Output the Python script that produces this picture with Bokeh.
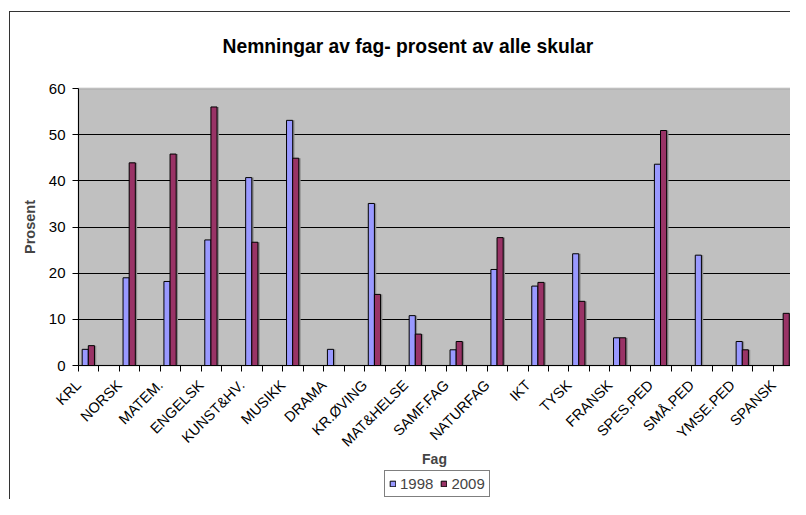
import math
from bokeh.plotting import figure
from bokeh.models import (ColumnDataSource, FixedTicker, Legend, LegendItem,
                          BoxAnnotation, Range1d, LinearAxis, Label, Grid)
from bokeh.transform import dodge
from bokeh.embed import file_html
from bokeh.resources import INLINE

fag = ["KRL", "NORSK", "MATEM.", "ENGELSK", "KUNST&HV.", "MUSIKK", "DRAMA",
       "KR.ØVING", "MAT&HELSE", "SAMF.FAG", "NATURFAG", "IKT", "TYSK",
       "FRANSK", "SPES.PED", "SMÅ.PED", "YMSE.PED", "SPANSK"]
y1998 = [3.5, 19.0, 18.2, 27.2, 40.7, 53.1, 3.5, 35.1, 10.8, 3.4, 20.8, 17.2,
         24.2, 6.0, 43.6, 23.9, 5.2, 0]
y2009 = [4.3, 43.9, 45.8, 56.0, 26.7, 44.9, 0, 15.4, 6.8, 5.2, 27.7, 18.0,
         13.9, 6.0, 50.9, 0, 3.4, 11.3]
y_ticks = [0, 10, 20, 30, 40, 50, 60]
series_names = ["1998", "2009"]
title_text = "Nemningar av fag- prosent av alle skular"

FONT = "Liberation Sans"
W, H = 790, 499

# layout (pixels of the canvas)
AX_LEFT, AX_TOP, AX_ZERO = 78.0, 88.0, 365.0
X_END = 17.42
px_per_cat = (W - AX_LEFT) / X_END
px_per_unit = (AX_ZERO - AX_TOP) / 60.0
x_range = Range1d(-AX_LEFT / px_per_cat, X_END)
y_range = Range1d(-(H - AX_ZERO) / px_per_unit, 60 + AX_TOP / px_per_unit)

pos = list(range(len(fag)))
source = ColumnDataSource(dict(pos=pos, fag=fag, y1998=y1998, y2009=y2009))

p = figure(width=W, height=H, output_backend="svg", toolbar_location=None,
           x_range=x_range, y_range=y_range, x_axis_location=None,
           y_axis_location=None, min_border=0, title=None)
p.background_fill_color = "white"
p.border_fill_color = "white"
p.outline_line_color = None
p.xgrid.visible = False
p.ygrid.visible = False

# plot area (grey) with grey top border
p.add_layout(BoxAnnotation(left=0, right=X_END + 1, bottom=0, top=60,
                           fill_color="#C0C0C0", fill_alpha=1,
                           line_color="#767676", line_width=2,
                           level="image"))

# chart border (only left and top edges are visible in the view)
p.add_layout(BoxAnnotation(left=8.5, right=9.5, top=H - 10.5, bottom=-50,
                           left_units="screen", right_units="screen",
                           top_units="screen", bottom_units="screen",
                           fill_color="#333333", fill_alpha=1,
                           line_color=None, level="overlay"))
p.add_layout(BoxAnnotation(left=8.5, right=W + 50, top=H - 10.5,
                           bottom=H - 11.5,
                           left_units="screen", right_units="screen",
                           top_units="screen", bottom_units="screen",
                           fill_color="#333333", fill_alpha=1,
                           line_color=None, level="overlay"))

# horizontal gridlines
grid = Grid(dimension=1, ticker=FixedTicker(ticks=y_ticks[1:-1]),
            grid_line_color="black", grid_line_width=1,
            cross_bounds=(0, X_END + 1))
p.add_layout(grid)

bw = 0.15
# shadows
p.vbar(x=dodge("pos", 0.165 + 0.045, range=p.x_range), top="y1998", width=bw,
       bottom=0, source=source, fill_color="#8c8c8c", line_color=None)
p.vbar(x=dodge("pos", 0.315 + 0.045, range=p.x_range), top="y2009", width=bw,
       bottom=0, source=source, fill_color="#8c8c8c", line_color=None)

r1 = p.vbar(x=dodge("pos", 0.165, range=p.x_range), top="y1998", width=bw,
            bottom=0, source=source, fill_color="#9999FF", line_color="black",
            line_width=1)
r2 = p.vbar(x=dodge("pos", 0.315, range=p.x_range), top="y2009", width=bw,
            bottom=0, source=source, fill_color="#993366", line_color="black",
            line_width=1)

# x axis at y = 0
xa = LinearAxis(fixed_location=0, bounds=(0, X_END + 1))
xa.ticker = FixedTicker(ticks=pos,
                        minor_ticks=[i * 0.5 for i in range(2 * len(fag))])
xa.major_label_overrides = {k: name for k, name in zip(pos, fag)}
xa.major_label_orientation = math.pi / 4
xa.major_tick_in = 0
xa.major_tick_out = 0
xa.minor_tick_in = 0
xa.minor_tick_out = 6
xa.minor_tick_line_color = "black"
xa.axis_line_color = "black"
xa.major_label_text_font = FONT
xa.major_label_text_font_size = "14.5px"
xa.major_label_text_color = "black"
xa.major_label_standoff = 11
xa.axis_label = "Fag"
xa.axis_label_text_font = FONT
xa.axis_label_text_font_size = "14px"
xa.axis_label_text_font_style = "bold"
xa.axis_label_standoff = -7
p.add_layout(xa, "below")

# y axis at x = 0
ya = LinearAxis(fixed_location=0, bounds=(0, 60))
ya.ticker = FixedTicker(ticks=y_ticks)
ya.major_tick_in = 0
ya.major_tick_out = 6
ya.minor_tick_out = 0
ya.minor_tick_in = 0
ya.major_tick_line_color = "black"
ya.axis_line_color = "black"
ya.major_label_text_font = FONT
ya.major_label_text_font_size = "15px"
ya.major_label_text_color = "black"
ya.major_label_standoff = 7
ya.axis_label = "Prosent"
ya.axis_label_text_font = FONT
ya.axis_label_text_font_size = "14.5px"
ya.axis_label_text_font_style = "bold"
ya.axis_label_standoff = 8
p.add_layout(ya, "left")

# title
p.add_layout(Label(x=222, y=H - 46, x_units="screen", y_units="screen",
                   text=title_text, text_font=FONT, text_font_size="19.3px",
                   text_font_style="bold", text_color="black",
                   text_align="left", text_baseline="alphabetic"))

legend = Legend(items=[LegendItem(label=series_names[0], renderers=[r1]),
                       LegendItem(label=series_names[1], renderers=[r2])],
                orientation="horizontal", location=(384, 2))
legend.label_text_font = FONT
legend.label_text_font_size = "15px"
legend.glyph_width = 7
legend.glyph_height = 7
legend.label_standoff = 4
legend.spacing = 7
legend.padding = 4
legend.margin = 0
legend.border_line_color = "black"
legend.border_line_width = 1
legend.background_fill_color = "white"
legend.label_height = 14
p.add_layout(legend)

open("out.html", "w").write(file_html(p, INLINE))
